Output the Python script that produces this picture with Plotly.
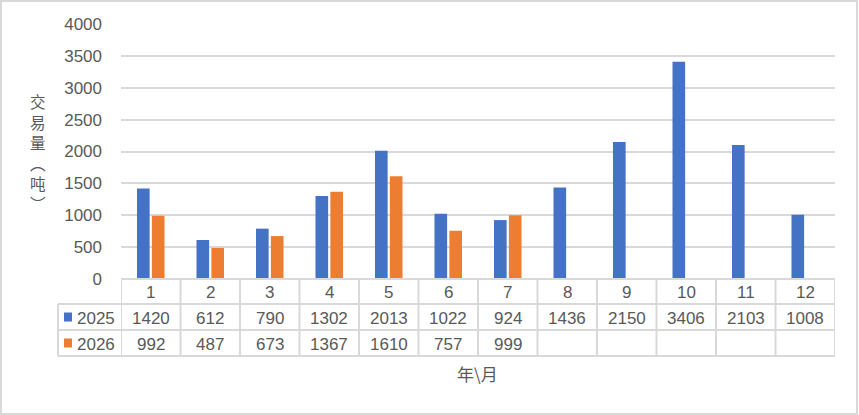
import plotly.graph_objects as go

months = [1, 2, 3, 4, 5, 6, 7, 8, 9, 10, 11, 12]
month_labels = ["1", "2", "3", "4", "5", "6", "7", "8", "9", "10", "11", "12"]
series_names = ["2025", "2026"]
vals_2025 = [1420, 612, 790, 1302, 2013, 1022, 924, 1436, 2150, 3406, 2103, 1008]
vals_2026 = [992, 487, 673, 1367, 1610, 757, 999, None, None, None, None, None]
colors = ["#4472C4", "#ED7D31"]
y_ticks = [0, 500, 1000, 1500, 2000, 2500, 3000, 3500, 4000]
y_title_chars = ["交", "易", "量", "︵", "吨", "︶"]
x_title = "年\\月"

W, H = 859, 415
L, R, T, B = 121, 835, 24, 279
PW, PH = R - L, B - T

def px(x):
    return (x - L) / PW

def py(y):
    return (B - y) / PH

FONT = "Liberation Sans, Arial, Noto Sans CJK SC, sans-serif"
CJK = "Noto Sans CJK SC"
TXT = "#595959"
GRID = "#d9d9d9"
FS = 17

fig = go.Figure()
for name, vals, col in zip(series_names, [vals_2025, vals_2026], colors):
    fig.add_trace(go.Bar(x=months, y=vals, name=name, marker_color=col,
                         marker_line_width=0, showlegend=False, hoverinfo="skip"))

shapes = []
ann = []
r0, r1, r2, r3 = 279, 304, 330, 356
tl = 58
line = dict(color=GRID, width=2)
shapes.append(dict(type="line", xref="paper", yref="paper", x0=px(L), x1=px(R), y0=py(r0), y1=py(r0), line=line))
for ry in (r1, r2, r3):
    shapes.append(dict(type="line", xref="paper", yref="paper", x0=px(tl), x1=px(R), y0=py(ry), y1=py(ry), line=line))
shapes.append(dict(type="line", xref="paper", yref="paper", x0=px(tl), x1=px(tl), y0=py(r1), y1=py(r3), line=line))
for i in range(13):
    xv = 0.5 + i
    shapes.append(dict(type="line", xref="x", yref="paper", x0=xv, x1=xv, y0=py(r0), y1=py(r3), line=line))
shapes.append(dict(type="rect", xref="paper", yref="paper", x0=px(1), x1=px(857), y0=py(1), y1=py(414),
                   line=dict(color=GRID, width=2), fillcolor="rgba(0,0,0,0)", layer="below"))
for name, col, (ya, yb) in zip(series_names, colors, [(r1, r2), (r2, r3)]):
    cy = (ya + yb) / 2
    shapes.append(dict(type="rect", xref="paper", yref="paper", x0=px(64), x1=px(72), y0=py(cy - 4.5), y1=py(cy + 4.5),
                       fillcolor=col, line=dict(width=0)))
    ann.append(dict(x=px(75), y=py(cy + 1), xref="paper", yref="paper", text=name, showarrow=False,
                    xanchor="left", yanchor="middle", font=dict(family=FONT, size=FS, color=TXT)))

for m, lab, v1, v2 in zip(months, month_labels, vals_2025, vals_2026):
    for txt, ya, yb in [(lab, r0, r1), (v1, r1, r2), (v2, r2, r3)]:
        if txt is None:
            continue
        ann.append(dict(x=m, y=py((ya + yb) / 2 + 1), xref="x", yref="paper", text=str(txt), showarrow=False,
                        xanchor="center", yanchor="middle", font=dict(family=FONT, size=FS, color=TXT)))

for i, ch in enumerate(y_title_chars):
    ann.append(dict(x=px(38), y=py(101 + 20.5 * i), xref="paper", yref="paper", text=ch, showarrow=False,
                    xanchor="center", yanchor="middle", borderpad=0,
                    font=dict(family=CJK, size=15.5, color=TXT)))
ann.append(dict(x=px(477), y=py(373), xref="paper", yref="paper", text=x_title, showarrow=False,
                xanchor="center", yanchor="middle", font=dict(family=CJK, size=17, color=TXT)))

fig.update_layout(
    width=W, height=H,
    margin=dict(l=L, r=W - R, t=T, b=H - B, autoexpand=False),
    paper_bgcolor="white", plot_bgcolor="white",
    barmode="group", bargap=0.5, bargroupgap=0.15,
    shapes=shapes, annotations=ann,
    xaxis=dict(range=[0.5, 12.5], showticklabels=False, showgrid=False, zeroline=False, showline=False,
               ticks="", automargin=False),
    yaxis=dict(range=[0, 4000], tickvals=y_ticks, showgrid=True, gridcolor=GRID, gridwidth=1.5,
               zeroline=False, showline=False, ticks="", ticklabelstandoff=18, automargin=False,
               tickfont=dict(family=FONT, size=FS, color=TXT)),
    font=dict(family=FONT),
)

fig.write_html("out.html", config={"displayModeBar": False},
               post_script="document.body.style.margin='0';document.body.style.padding='0';")
